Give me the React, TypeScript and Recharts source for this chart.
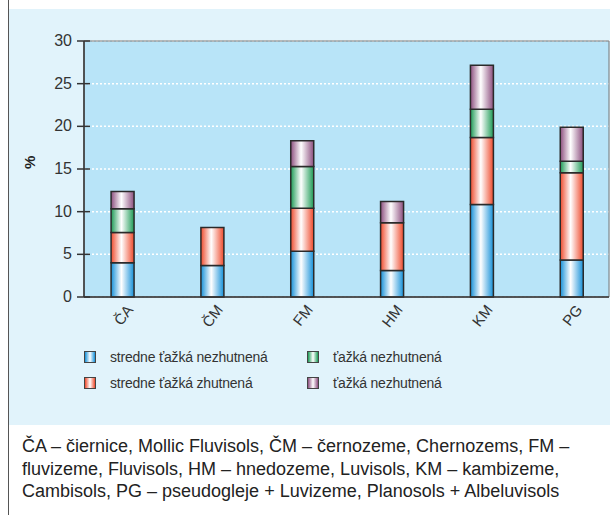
import {
  BarChart,
  Bar,
  XAxis,
  YAxis,
  CartesianGrid,
  ReferenceArea,
} from "recharts";

const categories = ["ČA", "ČM", "FM", "HM", "KM", "PG"];
const stredneNezhutnena = [4.0, 3.7, 5.35, 3.1, 10.85, 4.35];
const stredneZhutnena = [3.55, 4.45, 5.05, 5.6, 7.85, 10.2];
const tazkaNezhutnenaG = [2.8, 0, 4.9, 0, 3.3, 1.35];
const tazkaNezhutnenaP = [2.0, 0, 3.0, 2.5, 5.15, 4.0];
const yTicks = [0, 5, 10, 15, 20, 25, 30];
const captionLines = [
  "ČA – čiernice, Mollic Fluvisols, ČM – černozeme, Chernozems, FM –",
  "fluvizeme, Fluvisols, HM – hnedozeme, Luvisols, KM – kambizeme,",
  "Cambisols, PG – pseudogleje + Luvizeme, Planosols + Albeluvisols",
];

const series = [
  { key: "s1", label: "stredne ťažká nezhutnená", dark: "#1590d8", values: stredneNezhutnena },
  { key: "s2", label: "stredne ťažká zhutnená", dark: "#ee4a2c", values: stredneZhutnena },
  { key: "s3", label: "ťažká nezhutnená", dark: "#1c9a55", values: tazkaNezhutnenaG },
  { key: "s4", label: "ťažká nezhutnená", dark: "#8c4e7e", values: tazkaNezhutnenaP },
];

const data = categories.map((name, i) => {
  const row: Record<string, number | string> = { name, x: i };
  series.forEach((s) => (row[s.key] = s.values[i]));
  return row;
});

const narrow = '"Liberation Sans Narrow", "Arial Narrow", Arial, sans-serif';

function YTick(props: any) {
  const { x, y, payload } = props;
  return (
    <g>
      <line x1={x - 7} x2={x + 6} y1={y} y2={y} stroke="#333" strokeWidth={1.5} />
      <text x={x - 12} y={y} dy={5} textAnchor="end" fontSize={16} fill="#333" fontFamily={narrow}>
        {payload.value}
      </text>
    </g>
  );
}

function XTick(props: any) {
  const { x, y, payload } = props;
  const tx = x + 11;
  const ty = y + 11;
  return (
    <text
      x={tx}
      y={ty}
      textAnchor="end"
      fontSize={15}
      fill="#333"
      fontFamily={narrow}
      transform={`rotate(-52 ${tx} ${ty})`}
    >
      {categories[payload.value]}
    </text>
  );
}

function Swatch({ color }: { color: string }) {
  return (
    <span
      style={{
        display: "inline-block",
        width: 10,
        height: 10,
        border: "1px solid #444",
        background: `linear-gradient(to right, ${color} 0%, #ffffff 50%, ${color} 100%)`,
        marginRight: 14,
      }}
    />
  );
}

export default function App() {
  return (
    <div
      style={{
        position: "absolute",
        left: 0,
        top: 0,
        width: 610,
        height: 515,
        background: "#fff",
        overflow: "hidden",
      }}
    >
      <div style={{ position: "absolute", left: 8, top: 0, width: 1, height: 515, background: "#555" }} />
      <div style={{ position: "absolute", left: 9, top: 9, width: 601, height: 416, background: "#e1f3fb" }} />
      <div style={{ position: "absolute", left: 0, top: 0 }}>
        <BarChart width={610} height={425} data={data} margin={{ top: 41, right: 1, left: 34, bottom: 88 }}>
          <defs>
            {series.map((s) => (
              <linearGradient key={s.key} id={`g-${s.key}`} x1="0" y1="0" x2="1" y2="0">
                <stop offset="0%" stopColor={s.dark} />
                <stop offset="45%" stopColor="#ffffff" />
                <stop offset="100%" stopColor={s.dark} />
              </linearGradient>
            ))}
          </defs>
          <CartesianGrid
            vertical={false}
            fill="#b8e4f8"
            stroke="#ffffff"
            strokeDasharray="2 2"
            strokeWidth={1.5}
          />
          <ReferenceArea
            x1={-0.434}
            x2={5.41}
            y1={0}
            y2={30}
            fill="none"
            stroke="#777"
            strokeWidth={1}
          />
          <XAxis
            type="number"
            dataKey="x"
            domain={[-0.434, 5.41]}
            ticks={[0, 1, 2, 3, 4, 5]}
            interval={0}
            height={40}
            axisLine={{ stroke: "#333", strokeWidth: 1.5 }}
            tickLine={false}
            tickSize={0}
            tick={<XTick />}
          />
          <YAxis
            domain={[0, 30]}
            ticks={yTicks}
            width={50}
            axisLine={{ stroke: "#333", strokeWidth: 1.5 }}
            tickLine={false}
            tickSize={0}
            tickMargin={0}
            tick={<YTick />}
            label={{
              value: "%",
              angle: -90,
              position: "insideLeft",
              offset: -4,
              style: { fontWeight: "bold", fontSize: 15, fill: "#222", fontFamily: "Arial, sans-serif" },
            }}
          />
          {series.map((s) => (
            <Bar
              key={s.key}
              dataKey={s.key}
              stackId="a"
              barSize={23}
              fill={`url(#g-${s.key})`}
              stroke="#2a2a2a"
              strokeWidth={1.5}
              isAnimationActive={false}
            />
          ))}
        </BarChart>
      </div>
      <div
        style={{
          position: "absolute",
          left: 84,
          top: 348,
          display: "grid",
          gridTemplateColumns: "223px 200px",
          rowGap: 8,
          fontFamily: narrow,
          fontSize: 14,
          letterSpacing: -0.2,
          color: "#333",
        }}
      >
        {[series[0], series[2], series[1], series[3]].map((s) => (
          <div key={s.key} style={{ display: "flex", alignItems: "center", height: 18 }}>
            <Swatch color={s.dark} />
            {s.label}
          </div>
        ))}
      </div>
      <div
        style={{
          position: "absolute",
          left: 22,
          top: 435,
          fontFamily: "Arial, 'Liberation Sans', sans-serif",
          fontSize: 18,
          lineHeight: "22.5px",
          color: "#222",
          whiteSpace: "nowrap",
        }}
      >
        {captionLines.map((line) => (
          <div key={line}>{line}</div>
        ))}
      </div>
    </div>
  );
}
